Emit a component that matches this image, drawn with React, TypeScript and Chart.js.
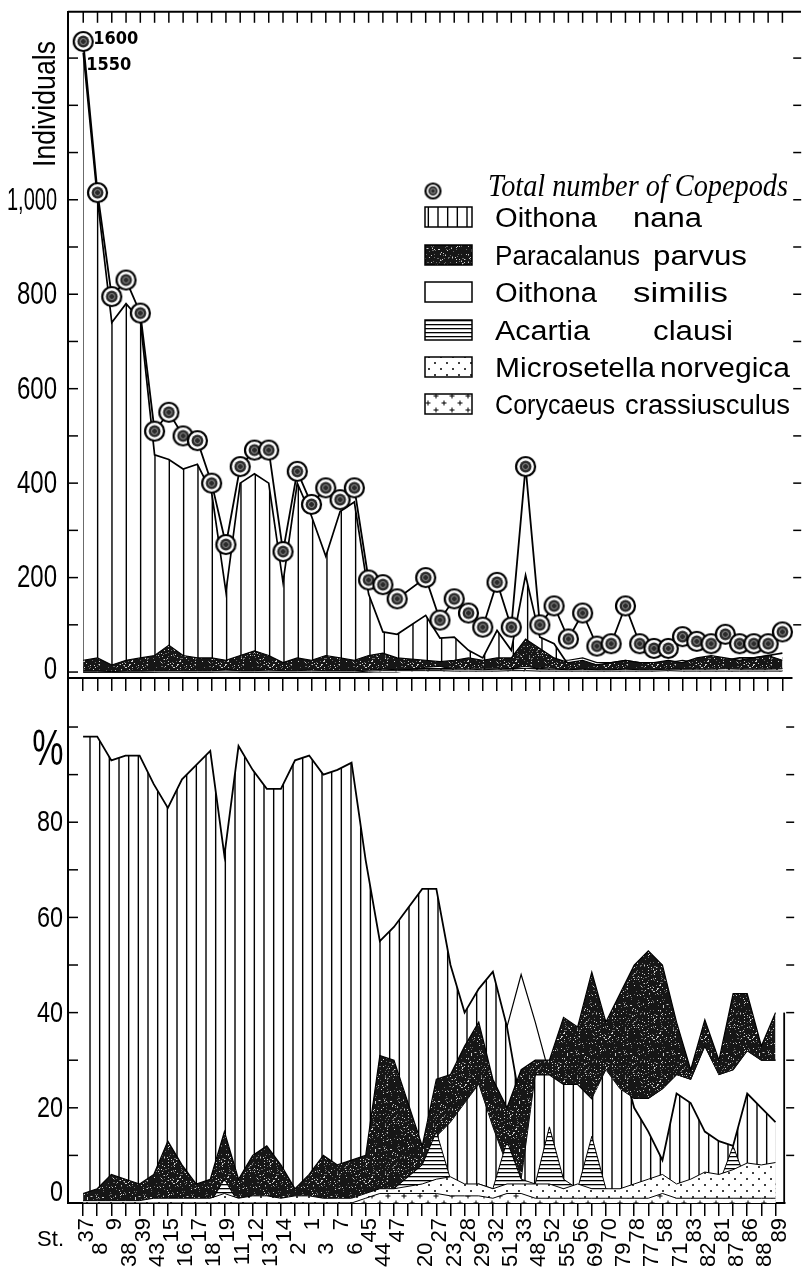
import React, { useEffect, useRef } from 'react';
import { Chart, registerables, LinearScale } from 'chart.js';

Chart.register(...registerables);

// ---------------- data ----------------
const stations = [
  '37', '8', '9', '38', '39', '43', '15', '16', '17', '18',
  '19', '11', '12', '13', '14', '2', '1', '3', '7', '6',
  '45', '44', '47', '', '20', '27', '23', '28', '29', '32',
  '51', '33', '48', '52', '55', '56', '69', '70', '79', '78',
  '77', '58', '71', '83', '82', '81', '87', '86', '88', '89',
];

// upper panel: individuals
const totalCopepods = [
  1600, 1015, 795, 830, 760, 510, 550, 500, 490, 400,
  270, 435, 470, 470, 255, 425, 355, 390, 365, 390,
  195, 185, 155, null, 200, 110, 155, 125, 95, 190,
  95, 435, 100, 140, 70, 125, 55, 60, 140, 60,
  50, 50, 75, 65, 60, 80, 60, 60, 60, 85,
];
const oithonaNanaCount = [
  1550, 1000, 740, 780, 745, 460, 450, 430, 440, 380,
  170, 400, 420, 400, 190, 400, 330, 245, 340, 360,
  165, 85, 80, null, 120, 72, 74, 46, 30, 88,
  46, 205, 74, 60, 15, 20, 15, 10, 15, 10,
  10, 10, 20, 20, 25, 25, 30, 30, 35, 40,
];
const paracalanusCountHigh = [
  25, 30, 15, 25, 30, 35, 57, 35, 30, 30,
  25, 35, 45, 35, 20, 30, 25, 35, 30, 25,
  35, 40, 30, null, 25, 22, 25, 30, 25, 30,
  30, 70, 50, 30, 20, 25, 15, 20, 25, 20,
  20, 25, 20, 30, 35, 30, 25, 30, 35, 25,
];
const paracalanusCountLow = [
  0, 0, 0, 0, 0, 0, 0, 0, 0, 0,
  0, 0, 0, 0, 0, 0, 0, 0, 0, 0,
  0, 0, 0, null, 8, 8, 8, 8, 8, 8,
  8, 10, 10, 8, 5, 5, 5, 5, 5, 5,
  5, 5, 5, 8, 8, 8, 8, 8, 8, 8,
];
const oithonaSimilisCount = [
  10, 10, 8, 8, 10, 10, 12, 10, 10, 10,
  12, 10, 10, 10, 8, 10, 10, 10, 8, 10,
  14, 16, 15, null, 25, 30, 25, 20, 15, 20,
  20, 40, 30, 25, 25, 30, 20, 20, 25, 20,
  15, 20, 25, 20, 25, 20, 20, 25, 20, 30,
];
const acartiaCount = [
  0, 0, 0, 0, 0, 0, 4, 0, 0, 0,
  6, 0, 0, 0, 0, 0, 0, 0, 0, 0,
  0, 3, 2, null, 10, 12, 5, 3, 3, 5,
  8, 12, 8, 5, 6, 3, 2, 3, 2, 2,
  2, 3, 2, 3, 2, 3, 2, 2, 2, 3,
];
const microsetellaCount = [
  2, 2, 1, 2, 2, 3, 3, 3, 3, 3,
  4, 3, 3, 4, 3, 3, 4, 3, 3, 3,
  4, 6, 5, null, 6, 6, 6, 6, 5, 6,
  6, 8, 6, 6, 5, 6, 5, 5, 6, 5,
  5, 6, 6, 6, 6, 7, 6, 6, 6, 7,
];
const corycaeusCount = [
  0, 0, 0, 0, 0, 0, 0, 0, 0, 0,
  0, 0, 0, 0, 0, 0, 0, 0, 0, 0,
  2, 3, 3, null, 3, 3, 2, 2, 2, 2,
  3, 3, 2, 2, 2, 2, 2, 2, 2, 2,
  2, 3, 2, 2, 2, 2, 2, 2, 2, 2,
];

// lower panel: percent
const oithonaNanaPct = [
  98, 98, 93, 94, 94, 88, 83, 89, 92, 95,
  73, 96, 91, 87, 87, 93, 94, 90, 91, 92.5,
  72, 55, 58, null, 66, 66, 50, 40, 45, 48.6,
  37, 20, 27, 27, 25, 25, 22, 38, 31, 20,
  15, 9, 23, 21, 15, 13, 12, 23, 20, 17,
];
const oithonaSimilisPct = [
  2, 2, 2, 2, 2, 3, 3, 2, 2, 2,
  4, 2, 2, 2, 2, 2, 2, 2, 3, 2,
  5, 8, 10, null, 10, 12, 14, 12, 14, 20,
  37, 48, 38, 27, 25, 25, 22, 28, 24, 22,
  22, 24, 27, 26, 33, 27, 28, 32, 30, 30,
];
const paracalanusPctLow = [
  0, 0, 0, 0, 0, 0, 0, 0, 0, 0,
  0, 0, 0, 0, 0, 0, 0, 0, 0, 0,
  0, 0, 0, null, 0, 14, 17, 21, 25, 16,
  8, 5, 27, 27, 25, 25, 22, 28, 24, 22,
  22, 24, 27, 26, 33, 27, 28, 32, 30, 30,
];
const paracalanusPctHigh = [
  2, 3, 6, 5, 4, 6, 13, 8, 4, 5,
  15, 5, 10, 12, 8, 3, 6, 10, 8, 9,
  10, 31, 30, null, 12, 26, 27, 33, 38, 26,
  20, 28, 30, 30, 39, 37, 48.5, 38, 44, 50,
  53, 50, 38, 28, 38.5, 30, 44, 44, 33, 40,
];
const acartiaPct = [
  0, 0, 0, 0, 0, 0, 1, 0, 0, 0,
  5, 0, 0, 0, 0, 0, 0, 0, 0, 0,
  1, 2, 3, null, 8, 15, 5, 3, 4, 3,
  13, 5, 4, 16, 5, 3, 14, 3, 2, 2,
  2, 4, 3, 3, 5, 4, 12, 4, 4, 4,
];
const microsetellaPct = [
  0.5, 0.5, 0.5, 0.5, 0.5, 1, 1, 1, 1, 1,
  2, 1, 1.5, 1.5, 1, 1.5, 1.5, 1, 1, 1,
  2, 3, 3, null, 4, 5, 5.5, 4, 4, 3,
  4, 4, 4, 4, 3, 4, 3, 3, 3, 4,
  5, 6, 4, 5, 6.5, 6, 7, 8.4, 8, 8.5,
];
const corycaeusPct = [
  0, 0, 0, 0, 0, 0, 0, 0, 0, 0,
  0, 0, 0, 0, 0, 0, 0, 0, 0, 0,
  1, 2, 2, null, 2, 2, 1.5, 1.5, 1.5, 1,
  2, 2, 1, 1, 1, 1, 1, 1, 1, 1,
  1, 2, 1, 1, 1, 1, 1, 1, 1, 1,
];

// axis ticks / labels
const topTickValues = [0, 100, 200, 300, 400, 500, 600, 700, 800, 900, 1000, 1100, 1200, 1300];
const topLabelValues = [0, 200, 400, 600, 800, 1000];
const topLabelTexts = ['0', '200', '400', '600', '800', '1,000'];
const pctTickValues = [0, 10, 20, 30, 40, 50, 60, 70, 80, 90, 100];
const pctLabelValues = [0, 20, 40, 60, 80];
const pctLabelTexts = ['0', '20', '40', '60', '80'];

const legendNames = [
  ['Oithona', 'nana'],
  ['Paracalanus', 'parvus'],
  ['Oithona', 'similis'],
  ['Acartia', 'clausi'],
  ['Microsetella', 'norvegica'],
  ['Corycaeus', 'crassiusculus'],
];
const legendTotalText = 'Total number of Copepods';

// ---------------- layout / style ----------------
const NARROW = '"Liberation Sans Narrow", "DejaVu Sans Condensed", "Liberation Sans", sans-serif';
const SANS = '"Liberation Sans", "DejaVu Sans", sans-serif';
const SERIF = '"Liberation Serif", "DejaVu Serif", serif';
const X_MIN = -1.068;
const X_MAX = 49.686;
const TOP_H = 700;
const BOT_TOP = 660;
const BOT_H = 611;
const BREAK = 1100;
const COMPRESS = 0.47;

class BrokenLinearScale extends LinearScale {
  getPixelForValue(value: number) {
    const v = value > BREAK ? BREAK + (value - BREAK) * COMPRESS : value;
    return super.getPixelForValue(v);
  }
  getPixelForTick(index: number) {
    const ticks = this.ticks;
    if (index < 0 || index > ticks.length - 1) return null as any;
    return super.getPixelForValue(ticks[index].value);
  }
}
(BrokenLinearScale as any).id = 'brokenLinear';
(BrokenLinearScale as any).defaults = (LinearScale as any).defaults;
Chart.register(BrokenLinearScale as any);

function lcg(seed: number) {
  let s = seed >>> 0;
  return () => {
    s = (Math.imul(s, 1664525) + 1013904223) >>> 0;
    return s / 4294967296;
  };
}
function mk(w: number, h: number) {
  const c = document.createElement('canvas');
  c.width = w;
  c.height = h;
  return c;
}
function vHatch(ctx: CanvasRenderingContext2D, period: number, lines: number[], lw: number) {
  const c = mk(period, 8);
  const g = c.getContext('2d')!;
  g.fillStyle = '#fff';
  g.fillRect(0, 0, period, 8);
  g.fillStyle = '#000';
  lines.forEach((x) => g.fillRect(x - lw / 2, 0, lw, 8));
  return ctx.createPattern(c, 'repeat')!;
}
function blackTex(ctx: CanvasRenderingContext2D) {
  const c = mk(48, 48);
  const g = c.getContext('2d')!;
  g.fillStyle = '#161616';
  g.fillRect(0, 0, 48, 48);
  const r = lcg(11);
  for (let i = 0; i < 260; i++) {
    const x = Math.floor(r() * 48);
    const y = Math.floor(r() * 48);
    g.fillStyle = r() < 0.45 ? '#d0d0d0' : '#6a6a6a';
    g.fillRect(x, y, 1, 1);
  }
  return ctx.createPattern(c, 'repeat')!;
}
function hLines(ctx: CanvasRenderingContext2D) {
  const c = mk(6, 4);
  const g = c.getContext('2d')!;
  g.fillStyle = '#fff';
  g.fillRect(0, 0, 6, 4);
  g.fillStyle = '#000';
  g.fillRect(0, 0, 6, 1.3);
  return ctx.createPattern(c, 'repeat')!;
}
function dots(ctx: CanvasRenderingContext2D) {
  const c = mk(12, 12);
  const g = c.getContext('2d')!;
  g.fillStyle = '#fff';
  g.fillRect(0, 0, 12, 12);
  g.fillStyle = '#000';
  [[3, 3], [9, 9]].forEach(([x, y]) => {
    g.beginPath();
    g.arc(x, y, 1, 0, Math.PI * 2);
    g.fill();
  });
  return ctx.createPattern(c, 'repeat')!;
}
function plus(ctx: CanvasRenderingContext2D) {
  const c = mk(16, 14);
  const g = c.getContext('2d')!;
  g.fillStyle = '#fff';
  g.fillRect(0, 0, 16, 14);
  g.fillStyle = '#000';
  [[4, 4], [12, 11]].forEach(([x, y]) => {
    g.fillRect(x - 2.5, y - 0.5, 5, 1);
    g.fillRect(x - 0.5, y - 2.5, 1, 5);
  });
  return ctx.createPattern(c, 'repeat')!;
}
function marker(r: number) {
  const s = Math.ceil(r * 2 + 4);
  const c = mk(s, s);
  const g = c.getContext('2d')!;
  const m = s / 2;
  g.beginPath();
  g.arc(m, m, r, 0, Math.PI * 2);
  g.fillStyle = '#fff';
  g.fill();
  g.lineWidth = 2.2;
  g.strokeStyle = '#000';
  g.stroke();
  g.beginPath();
  g.arc(m, m, r * 0.62, 0, Math.PI * 2);
  g.fillStyle = '#2a2a2a';
  g.fill();
  g.beginPath();
  g.arc(m, m, r * 0.32, 0, Math.PI * 2);
  g.lineWidth = 1;
  g.strokeStyle = '#9a9a9a';
  g.stroke();
  return c;
}

const xy = (arr: (number | null)[]) => arr.map((v, i) => ({ x: i, y: v }));

function area(data: (number | null)[], bg: any, fill: any, bw = 1.3) {
  return {
    data: xy(data),
    backgroundColor: bg,
    borderColor: '#000',
    borderWidth: bw,
    fill,
    pointRadius: 0,
    tension: 0,
    spanGaps: true,
  };
}

function xScale(extra: any) {
  return {
    type: 'linear',
    min: X_MIN,
    max: X_MAX,
    afterBuildTicks: (s: any) => {
      s.ticks = stations.map((_, i) => ({ value: i }));
    },
    grid: { display: true, drawOnChartArea: false, drawTicks: true, tickLength: 13, color: '#000', lineWidth: 1.5 },
    border: { display: true, color: '#000', width: 2 },
    ...extra,
  };
}

function line(ctx: CanvasRenderingContext2D, x1: number, y1: number, x2: number, y2: number) {
  ctx.beginPath();
  ctx.moveTo(x1, y1);
  ctx.lineTo(x2, y2);
  ctx.stroke();
}

function fitText(ctx: CanvasRenderingContext2D, text: string, x0: number, x1: number, baseline: number) {
  const w = ctx.measureText(text).width;
  ctx.save();
  ctx.translate(x0, baseline);
  ctx.scale((x1 - x0) / w, 1);
  ctx.textAlign = 'left';
  ctx.textBaseline = 'alphabetic';
  ctx.fillText(text, 0, 0);
  ctx.restore();
}

// narrow (horizontally condensed) right-aligned label, never wider than maxW
function narrowLabel(ctx: CanvasRenderingContext2D, text: string, right: number, cy: number, size: number, sx: number, maxW: number) {
  ctx.save();
  ctx.font = `${size}px ${SANS}`;
  const w = ctx.measureText(text).width;
  const k = Math.min(sx, maxW / w);
  ctx.translate(right, cy);
  ctx.scale(k, 1);
  ctx.textAlign = 'right';
  ctx.textBaseline = 'middle';
  ctx.fillText(text, 0, 1);
  ctx.restore();
}

export default function App() {
  const topRef = useRef<HTMLCanvasElement>(null);
  const botRef = useRef<HTMLCanvasElement>(null);

  useEffect(() => {
    const tc = topRef.current!;
    const bc = botRef.current!;
    const tctx = tc.getContext('2d')!;
    const bctx = bc.getContext('2d')!;

    const tp = {
      hatch: vHatch(tctx, 43, [40.3, 11.63, 25.97], 1.4),
      legendHatch: vHatch(tctx, 29, [3, 12.67, 22.33], 1.4),
      black: blackTex(tctx),
      h: hLines(tctx),
      dots: dots(tctx),
      plus: plus(tctx),
    };
    const bp = {
      hatch: vHatch(bctx, 29, [3, 12.67, 22.33], 1.4),
      black: blackTex(bctx),
      h: hLines(bctx),
      dots: dots(bctx),
      plus: plus(bctx),
    };
    const bigMarker = marker(9.5);
    const smallMarker = marker(7.5);

    const topDecor = {
      id: 'topDecor',
      afterDraw(chart: any) {
        const { ctx, chartArea: a, scales } = chart;
        const xs = scales.x;
        const ys = scales.y;
        ctx.save();
        ctx.strokeStyle = '#000';
        ctx.fillStyle = '#000';
        ctx.lineWidth = 2;
        line(ctx, a.left, a.top, 801, a.top);
        ctx.lineWidth = 1.5;
        stations.forEach((_, i) => {
          const x = xs.getPixelForValue(i);
          line(ctx, x, a.top, x, a.top + 11);
        });
        ys.ticks.forEach((t: any, i: number) => {
          const y = ys.getPixelForTick(i);
          line(ctx, a.left, y, a.left + 10, y);
          if (t.value > 0) line(ctx, a.right + 1, y, a.right + 9, y);
        });
        topLabelValues.forEach((v, i) => {
          narrowLabel(ctx, topLabelTexts[i], 57, ys.getPixelForValue(v) - (v === 0 ? 3 : 0), 32, 0.75, 50);
        });
        // axis title
        ctx.save();
        ctx.font = `31px ${SANS}`;
        ctx.translate(55, 104);
        ctx.rotate(-Math.PI / 2);
        ctx.scale(0.86, 1);
        ctx.textAlign = 'center';
        ctx.textBaseline = 'alphabetic';
        ctx.fillText('Individuals', 0, 0);
        ctx.restore();
        // off-scale annotations
        ctx.font = `bold 18px ${NARROW}`;
        ctx.textAlign = 'left';
        ctx.textBaseline = 'middle';
        const x0 = xs.getPixelForValue(0);
        ctx.fillText(String(totalCopepods[0]), x0 + 10, ys.getPixelForValue(totalCopepods[0] as number) - 2);
        ctx.fillText(String(oithonaNanaCount[0]), x0 + 3, ys.getPixelForValue(oithonaNanaCount[0] as number) + 13);
        // legend
        ctx.drawImage(smallMarker, 433 - smallMarker.width / 2, 191 - smallMarker.height / 2);
        ctx.font = `italic 31px ${SERIF}`;
        fitText(ctx, legendTotalText, 488, 788, 196);
        const fills = [tp.legendHatch, tp.black, '#fff', tp.h, tp.dots, tp.plus];
        const tops = [207, 245, 282, 320, 357, 394];
        const wordX = [
          [495, 597, 633, 702],
          [495, 640, 653, 747],
          [495, 597, 633, 728],
          [495, 590, 653, 733],
          [495, 655, 660, 790],
          [495, 615, 625, 790],
        ];
        ctx.font = `27px ${SANS}`;
        legendNames.forEach((nm, i) => {
          const y = tops[i];
          ctx.fillStyle = fills[i];
          ctx.fillRect(425, y, 47, 20);
          ctx.lineWidth = 1.5;
          ctx.strokeRect(425, y, 47, 20);
          ctx.fillStyle = '#000';
          const wx = wordX[i];
          fitText(ctx, nm[0], wx[0], wx[1], y + 20);
          fitText(ctx, nm[1], wx[2], wx[3], y + 20);
        });
        ctx.restore();
      },
    };

    const botDecor = {
      id: 'botDecor',
      afterDraw(chart: any) {
        const { ctx, chartArea: a, scales } = chart;
        const ys = scales.y;
        ctx.save();
        ctx.strokeStyle = '#000';
        ctx.fillStyle = '#000';
        ctx.lineWidth = 1.5;
        ys.ticks.forEach((t: any, i: number) => {
          const y = ys.getPixelForTick(i);
          line(ctx, a.left, y, a.left + 10, y);
          if (t.value > 0) line(ctx, a.right + 1, y, a.right + 9, y);
        });
        // partial right frame at the lower right corner
        ctx.lineWidth = 1.8;
        line(ctx, a.right - 1, ys.getPixelForValue(40), a.right - 1, a.bottom);
        pctLabelValues.forEach((v, i) => {
          narrowLabel(ctx, pctLabelTexts[i], 63, ys.getPixelForValue(v) - (v === 0 ? 11 : 0), 30, 0.78, 40);
        });
        ctx.save();
        ctx.font = `44px ${SANS}`;
        ctx.translate(48, ys.getPixelForValue(95));
        ctx.scale(0.8, 1.15);
        ctx.textAlign = 'center';
        ctx.textBaseline = 'middle';
        ctx.fillText('%', 0, 0);
        ctx.restore();
        ctx.font = `22px ${SANS}`;
        ctx.textAlign = 'right';
        ctx.textBaseline = 'alphabetic';
        ctx.fillText('St.', 64, 1246 - BOT_TOP);
        ctx.restore();
      },
    };

    const common = {
      animation: false,
      responsive: false,
      events: [],
      plugins: { legend: { display: false }, tooltip: { enabled: false } },
    };

    const yBase = {
      afterFit: (s: any) => {
        s.width = 68;
      },
      ticks: { display: false },
      grid: { display: false },
      border: { display: true, color: '#000', width: 2 },
    };

    const topChart = new Chart(tc, {
      type: 'line',
      data: {
        datasets: [
          {
            data: xy(totalCopepods),
            borderColor: '#000',
            borderWidth: 1.8,
            fill: false,
            pointStyle: bigMarker,
            pointRadius: 10,
            tension: 0,
            spanGaps: true,
            clip: false,
          },
          area(corycaeusCount, tp.plus, 'origin', 1),
          area(microsetellaCount, tp.dots, 'origin', 1),
          area(acartiaCount, tp.h, 'origin', 1),
          area(paracalanusCountHigh, tp.black, 5, 1.2),
          area(paracalanusCountLow, 'transparent', false, 1),
          area(oithonaNanaCount, tp.hatch, 'origin', 1.7),
          area(oithonaSimilisCount, '#fff', 'origin', 1.2),
        ] as any,
      },
      options: {
        ...common,
        layout: { padding: { top: 8, right: 9, left: 0, bottom: 0 } },
        scales: {
          x: xScale({
            ticks: { display: false },
            afterFit: (s: any) => {
              s.height = TOP_H - 678;
            },
          }),
          y: {
            ...yBase,
            type: 'brokenLinear',
            min: -12.6,
            max: 1398,
            afterBuildTicks: (s: any) => {
              s.ticks = topTickValues.map((v) => ({ value: v }));
            },
          },
        },
      } as any,
      plugins: [topDecor],
    });

    const gapIndex = stations.indexOf('');
    const botChart = new Chart(bc, {
      type: 'line',
      data: {
        datasets: [
          area(corycaeusPct, bp.plus, 'origin', 1),
          area(microsetellaPct, bp.dots, 'origin', 1),
          area(acartiaPct, bp.h, 'origin', 1),
          area(paracalanusPctHigh, bp.black, 4, 1.2),
          area(paracalanusPctLow, 'transparent', false, 1),
          area(oithonaNanaPct, bp.hatch, 'origin', 1.8),
          area(oithonaSimilisPct, '#fff', 'origin', 1.2),
        ] as any,
      },
      options: {
        ...common,
        layout: { padding: { top: 678 - BOT_TOP, right: 9, left: 0, bottom: 0 } },
        scales: {
          x: xScale({
            ticks: {
              autoSkip: false,
              maxRotation: 90,
              minRotation: 90,
              padding: 2,
              labelOffset: 4,
              color: '#000',
              font: { family: SANS, size: 22 },
              callback: (v: number) => {
                const i = Math.round(v);
                const s = stations[i] || '';
                if (!s) return '';
                const j = gapIndex >= 0 && i > gapIndex ? i - 1 : i;
                return j % 2 ? s + '    ' : s;
              },
            },
            afterFit: (s: any) => {
              s.height = BOT_H - (1203 - BOT_TOP);
            },
          }),
          y: {
            ...yBase,
            type: 'linear',
            min: 0,
            max: 110.3,
            afterBuildTicks: (s: any) => {
              s.ticks = pctTickValues.map((v) => ({ value: v }));
            },
          },
        },
      } as any,
      plugins: [botDecor],
    });

    return () => {
      topChart.destroy();
      botChart.destroy();
    };
  }, []);

  return (
    <div style={{ position: 'absolute', left: 0, top: 0, width: 804, height: 1271, background: '#fff', overflow: 'hidden' }}>
      <canvas
        ref={topRef}
        width={804}
        height={TOP_H}
        style={{ position: 'absolute', left: 0, top: 0, width: 804, height: TOP_H }}
      />
      <canvas
        ref={botRef}
        width={804}
        height={BOT_H}
        style={{ position: 'absolute', left: 0, top: BOT_TOP, width: 804, height: BOT_H }}
      />
    </div>
  );
}
